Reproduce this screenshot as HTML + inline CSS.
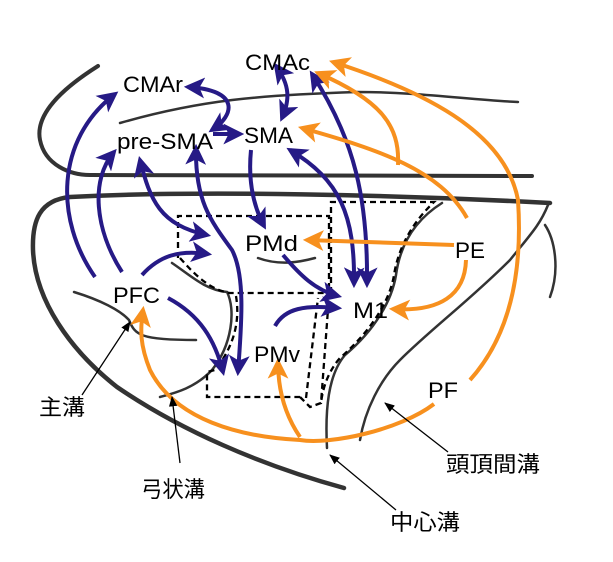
<!DOCTYPE html>
<html><head><meta charset="utf-8"><style>
html,body{margin:0;padding:0;background:#fff;}
svg{display:block;}
text{font-family:"Liberation Sans","Noto Sans CJK JP",sans-serif;fill:#000;}
</style></head><body>
<svg width="613" height="562" viewBox="0 0 613 562" xmlns="http://www.w3.org/2000/svg">
<defs>
<marker id="b" viewBox="0 0 10 10" refX="8" refY="5" markerWidth="5.2" markerHeight="5.2" orient="auto-start-reverse" markerUnits="strokeWidth"><path d="M0,0 L10,5 L0,10 L2.5,5 z" fill="#261a86"/></marker>
<marker id="o" viewBox="0 0 10 10" refX="8" refY="5" markerWidth="5.2" markerHeight="5.2" orient="auto-start-reverse" markerUnits="strokeWidth"><path d="M0,0 L10,5 L0,10 L2.5,5 z" fill="#f7901e"/></marker>
<marker id="k" viewBox="0 0 10 10" refX="9" refY="5" markerWidth="8" markerHeight="8" orient="auto" markerUnits="strokeWidth"><path d="M0,1 L10,5 L0,9 z" fill="#000"/></marker>
</defs>
<g fill="none" stroke="#333" stroke-linecap="round">
<path d="M98,66 C60,90 35,115 40,140 C45,165 70,175 90,175 L532,176" stroke-width="4"/>
<path d="M120,123 C200,100 260,95 357,92 C420,92 470,100 518,102" stroke-width="2.5"/>
<path d="M550,203 C400,195 200,190 70,197 C40,200 32,220 33,250 C35,300 70,350 117,387 C180,430 260,465 344,488" stroke-width="4.5"/>
<path d="M548,205 C540,225 530,235 510,260 C470,300 430,330 400,360 C380,380 365,410 360,440" stroke-width="2.5"/>
<path d="M545,225 C555,240 560,270 550,297" stroke-width="2.5"/>
<path d="M442,203 C415,220 400,245 396,275 C392,300 375,330 345,355 C328,375 325,410 327,448" stroke-width="2.5"/>
<path d="M172,263 C190,275 205,290 227,292 C236,310 232,345 212,370 C195,388 175,393 160,397" stroke-width="2.5"/>
<path d="M258,258 C280,266 300,262 315,258" stroke-width="2.5"/>
<path d="M74,292 C100,300 120,310 129,320 C135,335 140,340 196,340" stroke-width="2.5"/>
</g>
<g fill="none" stroke="#000" stroke-width="2.3" stroke-dasharray="6,4">
<path d="M178,258 L178,216 L329,216 L329,293"/>
<path d="M180,258 C195,275 210,290 230,293 L329,293"/>
<path d="M236,296 C240,320 235,345 215,370 L207,372 L207,397 L300,397"/>
<path d="M300,397 L310,407 L321,403 L329,296"/>
<path d="M306,398 L318,298"/>
<path d="M331,293 L331,202 L434,202 C410,225 398,250 394,275 C390,300 372,330 340,358 C325,375 322,395 321,403"/>
</g>
<g fill="none" stroke="#261a86" stroke-width="4" stroke-linecap="butt">
<path d="M95,277 C55,220 55,140 115,94" marker-end="url(#b)"/>
<path d="M122,272 C95,230 90,180 114,152" marker-end="url(#b)"/>
<path d="M142,275 C160,255 180,250 208,254" marker-end="url(#b)"/>
<path d="M140,160 C150,200 160,225 207,235" marker-start="url(#b)" marker-end="url(#b)"/>
<path d="M168,298 C200,315 215,340 223,372" marker-end="url(#b)"/>
<path d="M196,148 C195,200 210,220 232,250 C245,275 242,320 238,372" marker-start="url(#b)" marker-end="url(#b)"/>
<path d="M188,87 C240,90 235,115 212,130" marker-start="url(#b)" marker-end="url(#b)"/>
<path d="M213,134 L240,134" marker-end="url(#b)"/>
<path d="M276,66 C290,85 290,100 282,118" marker-start="url(#b)" marker-end="url(#b)"/>
<path d="M251,150 C248,180 253,205 264,226" marker-end="url(#b)"/>
<path d="M290,150 C340,180 355,215 354,284" marker-start="url(#b)" marker-end="url(#b)"/>
<path d="M312,74 C355,140 368,200 367,284" marker-start="url(#b)" marker-end="url(#b)"/>
<path d="M283,255 C300,275 315,290 338,296" marker-end="url(#b)"/>
<path d="M275,326 C285,308 305,305 338,308" marker-end="url(#b)"/>
</g>
<g fill="none" stroke="#f7901e" stroke-width="4">
<path d="M454,245 L307,240" marker-end="url(#o)"/>
<path d="M467,218 C440,170 380,150 302,128" marker-end="url(#o)"/>
<path d="M398,165 C400,125 380,100 318,73" marker-end="url(#o)"/>
<path d="M470,380 C515,330 522,260 518,200 C505,130 420,90 333,62" marker-end="url(#o)"/>
<path d="M466,260 C465,295 440,312 393,309" marker-end="url(#o)"/>
<path d="M434,404 C400,430 330,445 300,440 C240,437 175,420 150,370 C140,345 140,330 143,310" marker-end="url(#o)"/>
<path d="M300,437 C285,415 278,390 278,362" marker-end="url(#o)"/>
</g>
<g stroke="#000" stroke-width="1.3" fill="none">
<path d="M82,395 L130,322" marker-end="url(#k)"/>
<path d="M180,463 L172,397" marker-end="url(#k)"/>
<path d="M448,452 L385,403" marker-end="url(#k)"/>
<path d="M396,510 L330,455" marker-end="url(#k)"/>
</g>
<g font-size="22">
<text x="123" y="92" textLength="60" lengthAdjust="spacingAndGlyphs">CMAr</text>
<text x="245" y="70" textLength="65" lengthAdjust="spacingAndGlyphs">CMAc</text>
<text x="117" y="149" textLength="96" lengthAdjust="spacingAndGlyphs">pre-SMA</text>
<text x="244" y="143" textLength="49" lengthAdjust="spacingAndGlyphs">SMA</text>
<text x="245" y="251" textLength="53" lengthAdjust="spacingAndGlyphs">PMd</text>
<text x="455" y="258" textLength="30" lengthAdjust="spacingAndGlyphs">PE</text>
<text x="113" y="303" textLength="47" lengthAdjust="spacingAndGlyphs">PFC</text>
<text x="353" y="318" textLength="35" lengthAdjust="spacingAndGlyphs">M1</text>
<text x="254" y="362" textLength="46" lengthAdjust="spacingAndGlyphs">PMv</text>
<text x="428" y="398" textLength="30" lengthAdjust="spacingAndGlyphs">PF</text>
</g>
<g font-size="22">
<text x="39" y="415" textLength="46" lengthAdjust="spacingAndGlyphs">主溝</text>
<text x="141" y="497" textLength="64" lengthAdjust="spacingAndGlyphs">弓状溝</text>
<text x="446" y="472" textLength="94" lengthAdjust="spacingAndGlyphs">頭頂間溝</text>
<text x="390" y="530" textLength="70" lengthAdjust="spacingAndGlyphs">中心溝</text>
</g>
</svg>
</body></html>
